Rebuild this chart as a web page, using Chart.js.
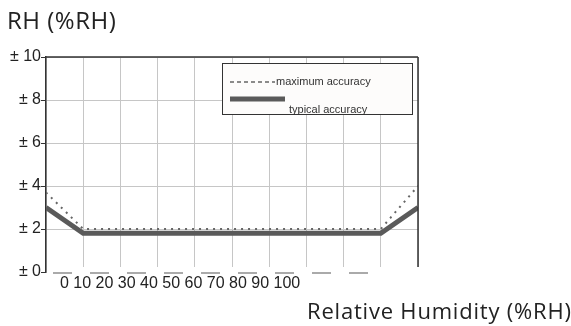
<!DOCTYPE html>
<html>
<head>
<meta charset="utf-8">
<script src="https://cdn.jsdelivr.net/npm/chart.js@4/dist/chart.umd.min.js"></script>
<style>
  html, body { margin: 0; padding: 0; background: #fff; }
  #wrap { width: 571px; height: 326px; position: relative; }
</style>
</head>
<body>
<div id="wrap"><canvas id="rh"></canvas></div>
<script>
// humidity steps (%RH)
const humidity = [0, 10, 20, 30, 40, 50, 60, 70, 80, 90, 100];
// tolerance in ± %RH
const maxAccuracy = [3.7, 2.0, 2.0, 2.0, 2.0, 2.0, 2.0, 2.0, 2.0, 2.0, 4.0];
const typAccuracy = [3.0, 1.8, 1.8, 1.8, 1.8, 1.8, 1.8, 1.8, 1.8, 1.8, 3.0];
const seriesNames = ['maximum accuracy', 'typical accuracy'];
const yTicks = [0, 2, 4, 6, 8, 10];
const xTickLabels = ['0', '10', '20', '30', '40', '50', '60', '70', '80', '90', '100'];

const chartTitle = 'RH (%RH)';
const xTitle = 'Relative Humidity (%RH)';

const extras = {
  id: 'extras',
  afterDraw(chart) {
    const ctx = chart.ctx;
    const area = chart.chartArea;
    ctx.save();

    // frame: top + right dark, bottom broken
    ctx.strokeStyle = '#333';
    ctx.lineWidth = 1.5;
    ctx.beginPath();
    ctx.moveTo(area.left, area.top);
    ctx.lineTo(area.right, area.top);
    ctx.moveTo(area.right, area.top);
    ctx.lineTo(area.right, area.bottom - 4);
    ctx.stroke();
    ctx.strokeStyle = '#fff';
    ctx.lineWidth = 6;
    ctx.beginPath();
    ctx.moveTo(area.left + 1, area.bottom - 2);
    ctx.lineTo(area.right + 2, area.bottom - 2);
    ctx.stroke();
    ctx.strokeStyle = '#aaa';
    ctx.lineWidth = 2;
    ctx.setLineDash([19, 18]);
    ctx.lineDashOffset = -7;
    ctx.beginPath();
    ctx.moveTo(area.left, area.bottom + 1);
    ctx.lineTo(area.right - 44, area.bottom + 1);
    ctx.stroke();
    ctx.setLineDash([]);

    // titles
    ctx.fillStyle = '#222';
    ctx.textBaseline = 'middle';
    ctx.textAlign = 'left';
    ctx.font = '24px "Open Sans"';
    ctx.letterSpacing = '0.5px';
    ctx.fillText(chartTitle, 7, 22);
    ctx.font = '22px "Open Sans"';
    ctx.letterSpacing = '0.8px';
    ctx.fillText(xTitle, 307, 313);
    ctx.letterSpacing = '0px';

    // x labels, squashed like the scan
    ctx.font = '16px "Liberation Sans"';
    ctx.fillStyle = '#222';
    ctx.fillText(xTickLabels.join(' '), area.left + 14, area.bottom + 12);

    // legend box
    const lx = area.left + 176, ly = area.top + 6, lw = 190, lh = 51;
    ctx.fillStyle = '#fdfcfb';
    ctx.fillRect(lx, ly, lw, lh);
    ctx.strokeStyle = '#333';
    ctx.lineWidth = 1;
    ctx.strokeRect(lx + 0.5, ly + 0.5, lw, lh);

    const ds = chart.data.datasets;
    ctx.beginPath();
    ctx.setLineDash([4, 3]);
    ctx.strokeStyle = ds[0].borderColor;
    ctx.lineWidth = 1.5;
    ctx.moveTo(lx + 8, ly + 19);
    ctx.lineTo(lx + 53, ly + 19);
    ctx.stroke();
    ctx.setLineDash([]);
    ctx.beginPath();
    ctx.strokeStyle = ds[1].borderColor;
    ctx.lineWidth = 5;
    ctx.moveTo(lx + 8, ly + 36);
    ctx.lineTo(lx + 63, ly + 36);
    ctx.stroke();

    ctx.fillStyle = '#333';
    ctx.font = '11px "Liberation Sans"';
    ctx.fillText(ds[0].label, lx + 54, ly + 19);
    ctx.fillText(ds[1].label, lx + 67, ly + 47);
    ctx.restore();
  }
};

new Chart(document.getElementById('rh'), {
  type: 'line',
  data: {
    labels: humidity,
    datasets: [
      {
        label: seriesNames[0],
        data: humidity.map((h, i) => ({ x: h, y: maxAccuracy[i] })),
        borderColor: '#666',
        borderWidth: 2,
        borderDash: [2, 5],
        pointRadius: 0,
        tension: 0
      },
      {
        label: seriesNames[1],
        data: humidity.map((h, i) => ({ x: h, y: typAccuracy[i] })),
        borderColor: '#5a5a5a',
        borderWidth: 5,
        pointRadius: 0,
        tension: 0
      }
    ]
  },
  options: {
    responsive: true,
    maintainAspectRatio: false,
    animation: false,
    layout: { padding: { left: 0, top: 57, right: 153, bottom: 54 } },
    plugins: {
      legend: { display: false },
      tooltip: { enabled: false }
    },
    scales: {
      x: {
        type: 'linear',
        min: 0,
        max: 100,
        ticks: { stepSize: 10, display: false },
        grid: { color: '#c6c6c6', drawTicks: false },
        border: { display: false },
        afterFit: s => { s.height = 0; }
      },
      y: {
        min: 0,
        max: 10,
        ticks: {
          stepSize: 1,
          color: '#222',
          font: { family: '"Liberation Sans"', size: 16 },
          padding: 0,
          callback: v => yTicks.includes(v) ? '± ' + v : ''
        },
        grid: {
          color: '#c6c6c6',
          tickColor: ctx => yTicks.includes(ctx.tick.value) ? '#333' : 'rgba(0,0,0,0)',
          tickLength: 5
        },
        border: { color: '#333', width: 1.5 },
        afterFit: s => { s.width = 46; }
      }
    }
  },
  plugins: [extras]
});
</script>
</body>
</html>
